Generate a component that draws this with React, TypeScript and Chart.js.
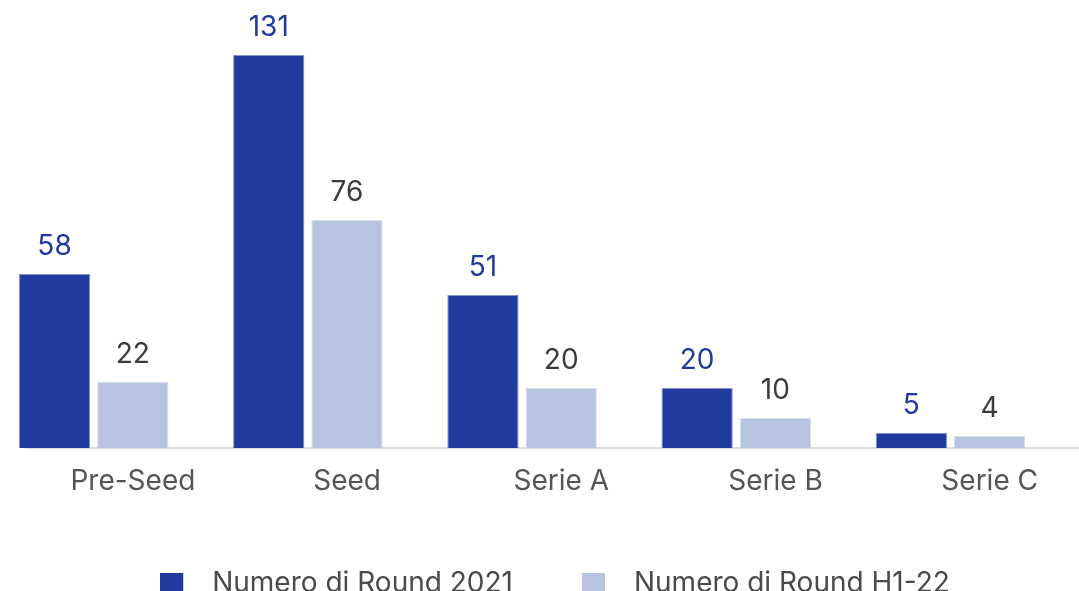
import React, { useEffect, useRef } from "react";
import { Chart, registerables } from "chart.js";

Chart.register(...registerables);

const categories = ["Pre-Seed", "Seed", "Serie A", "Serie B", "Serie C"];
const series2021 = [58, 131, 51, 20, 5];
const seriesH122 = [22, 76, 20, 10, 4];
const seriesNames = ["Numero di Round 2021", "Numero di Round H1-22"];
const seriesColors = ["#213A9D", "#B8C3E0"];
const seriesEdges = ["rgba(33,58,157,0.55)", "rgba(184,195,224,0.55)"];
const valueColors = ["#213A9D", "#3B3B3B"];

const CANVAS_W = 1110;
const CANVAS_H = 608;
const FONT_FAMILY = "Inter";
const FONT_SIZE = 28;
const BAR_SHIFT = 0.1832;

function makeSwatch(color: string): HTMLCanvasElement {
  const c = document.createElement("canvas");
  c.width = 38;
  c.height = 23;
  const g = c.getContext("2d")!;
  g.fillStyle = color;
  g.fillRect(0, 0, 23, 23);
  return c;
}

const valueLabelPlugin = {
  id: "valueLabels",
  afterDatasetsDraw(chart: any) {
    const ctx = chart.ctx;
    ctx.save();
    ctx.font = `400 ${FONT_SIZE}px ${FONT_FAMILY}`;
    ctx.textAlign = "center";
    ctx.textBaseline = "alphabetic";
    chart.data.datasets.forEach((ds: any, di: number) => {
      const meta = chart.getDatasetMeta(di);
      meta.data.forEach((el: any, i: number) => {
        const v = ds.data[i].y;
        ctx.fillStyle = valueColors[di];
        ctx.fillText(String(v), el.x, el.y - 19);
      });
    });
    ctx.restore();
  },
};

export default function App() {
  const ref = useRef<HTMLCanvasElement | null>(null);

  useEffect(() => {
    if (!ref.current) return;
    const swatches = seriesColors.map(makeSwatch);
    const allSeries = [series2021, seriesH122];
    const chart = new Chart(ref.current, {
      type: "bar",
      data: {
        labels: categories,
        datasets: allSeries.map((vals, si) => ({
          label: seriesNames[si],
          data: vals.map((y, i) => ({ x: i, y })),
          backgroundColor: seriesColors[si],
          borderColor: seriesEdges[si],
          borderWidth: 1,
          xAxisID: "xb",
          yAxisID: "y",
          categoryPercentage: 0.7306,
          barPercentage: 0.911,
          clip: false,
        })) as any,
      },
      options: {
        animation: false,
        responsive: false,
        events: [],
        layout: { padding: { top: 28, left: 0, right: 0, bottom: 0 } },
        plugins: {
          tooltip: { enabled: false },
          legend: {
            position: "bottom",
            labels: {
              usePointStyle: true,
              pointStyleWidth: 38,
              padding: 69,
              color: "#4A4A4A",
              font: { family: FONT_FAMILY, size: FONT_SIZE },
              generateLabels: (ch: any) =>
                ch.data.datasets.map((ds: any, i: number) => ({
                  text: ds.label,
                  fillStyle: seriesColors[i],
                  strokeStyle: seriesColors[i],
                  lineWidth: 0,
                  pointStyle: swatches[i],
                  hidden: false,
                  datasetIndex: i,
                  fontColor: "#4A4A4A",
                })),
            },
          },
        },
        scales: {
          x: {
            type: "category",
            position: "bottom",
            offset: true,
            grid: { display: false, drawTicks: false },
            border: { display: true, color: "#DDDDDD", width: 2 },
            ticks: {
              padding: 17,
              color: "#555555",
              font: { family: FONT_FAMILY, size: FONT_SIZE },
              maxRotation: 0,
              autoSkip: false,
            },
            afterFit: (s: any) => {
              s.height = 53;
            },
          },
          xb: {
            type: "linear",
            display: false,
            offset: false,
            min: -0.5 + BAR_SHIFT,
            max: 4.5 + BAR_SHIFT,
            afterBuildTicks: (s: any) => {
              s.ticks = categories.map((_, i) => ({ value: i }));
            },
          },
          y: {
            type: "linear",
            position: "left",
            min: 0,
            max: 140,
            grid: { display: false },
            border: { display: false },
            ticks: { display: false },
            afterFit: (s: any) => {
              s.width = 25.8;
            },
          },
          yr: {
            type: "linear",
            position: "right",
            grid: { display: false },
            border: { display: false },
            ticks: { display: false },
            afterFit: (s: any) => {
              s.width = 13.2;
            },
          },
        } as any,
      },
      plugins: [valueLabelPlugin],
    });
    return () => chart.destroy();
  }, []);

  return (
    <div
      style={{
        position: "fixed",
        left: 0,
        top: 0,
        width: 1079,
        height: 591,
        overflow: "hidden",
        background: "#ffffff",
      }}
    >
      <canvas ref={ref} width={CANVAS_W} height={CANVAS_H} style={{ display: "block" }} />
    </div>
  );
}
